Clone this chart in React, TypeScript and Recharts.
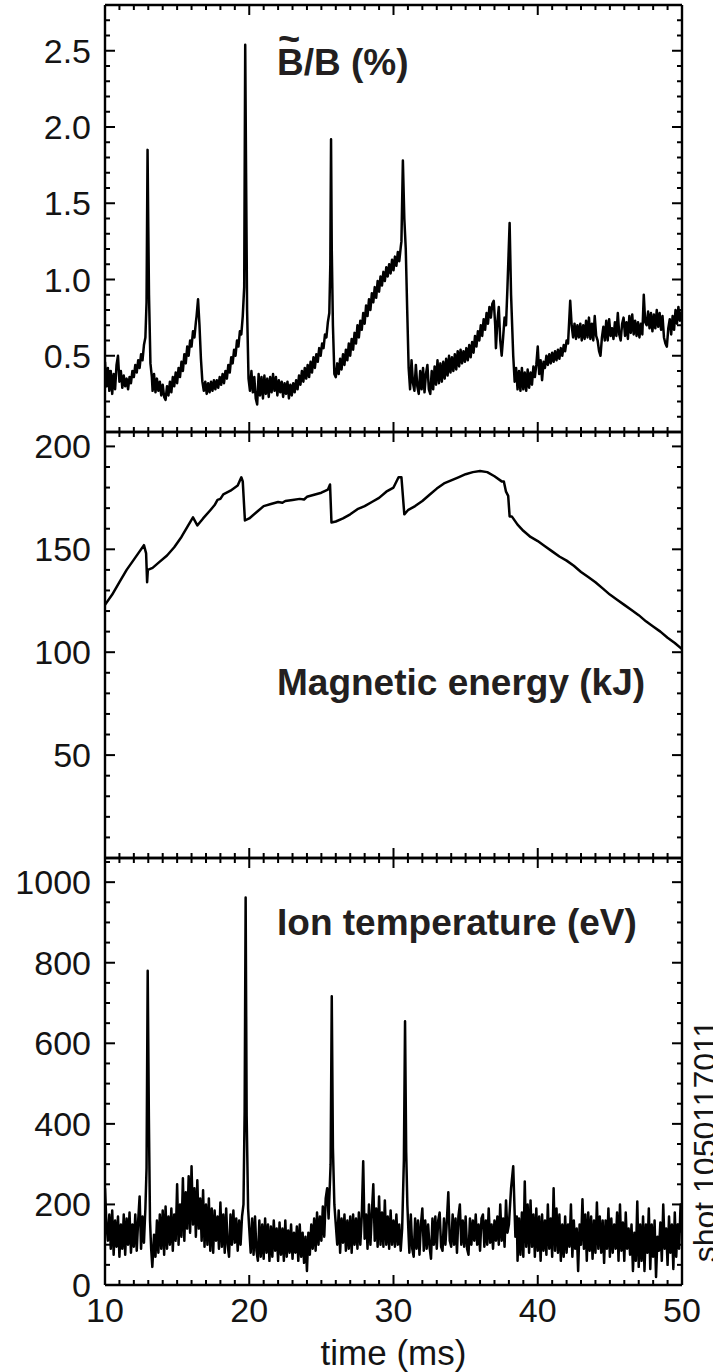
import { Customized, Line, LineChart, XAxis, YAxis } from "recharts"

const FONT = "'Liberation Sans', Arial, Helvetica, sans-serif"
const INK = "#141414"

// time axis shared by the three panels (ms)
const timeDomain: [number, number] = [10, 50]
const timeMajor = [10, 20, 30, 40, 50]

// B~/B (%)
const bDomain: [number, number] = [0, 2.8]
const bMajor = [0, 0.5, 1.0, 1.5, 2.0, 2.5]
const bLabels = [0.5, 1.0, 1.5, 2.0, 2.5]

// magnetic energy (kJ)
const wDomain: [number, number] = [0, 207]
const wMajor = [0, 50, 100, 150, 200]
const wLabels = [50, 100, 150, 200]

// ion temperature (eV)
const tiDomain: [number, number] = [0, 1060]
const tiMajor = [0, 200, 400, 600, 800, 1000]
const tiLabels = [0, 200, 400, 600, 800, 1000]

const bFluct: [number, number][] = [
  [10.0, 0.46], [10.1, 0.3], [10.2, 0.42], [10.3, 0.27], [10.4, 0.4], [10.5, 0.25], [10.6, 0.38], [10.7, 0.28],
  [10.8, 0.44], [10.9, 0.5], [11.0, 0.33], [11.1, 0.4], [11.2, 0.29], [11.3, 0.37], [11.4, 0.3], [11.5, 0.35],
  [11.6, 0.28], [11.7, 0.36], [11.8, 0.32], [11.9, 0.4], [12.0, 0.36], [12.1, 0.44], [12.2, 0.39], [12.3, 0.47],
  [12.4, 0.42], [12.5, 0.51], [12.6, 0.47], [12.7, 0.57], [12.8, 0.62], [12.88, 0.85], [12.95, 1.85], [13.0, 1.35],
  [13.05, 0.9], [13.15, 0.45], [13.25, 0.36], [13.3, 0.27], [13.4, 0.38], [13.5, 0.26], [13.6, 0.35], [13.7, 0.27],
  [13.8, 0.33], [13.9, 0.24], [14.0, 0.31], [14.1, 0.23], [14.2, 0.21], [14.3, 0.3], [14.4, 0.24], [14.5, 0.33],
  [14.6, 0.26], [14.7, 0.36], [14.8, 0.3], [14.9, 0.39], [15.0, 0.32], [15.1, 0.42], [15.2, 0.36], [15.3, 0.46],
  [15.4, 0.4], [15.5, 0.51], [15.6, 0.45], [15.7, 0.56], [15.8, 0.5], [15.9, 0.6], [16.0, 0.56], [16.1, 0.66],
  [16.2, 0.62], [16.3, 0.72], [16.35, 0.76], [16.45, 0.87], [16.55, 0.7], [16.65, 0.48], [16.75, 0.33], [16.85, 0.27],
  [16.95, 0.33], [17.05, 0.25], [17.15, 0.32], [17.25, 0.26], [17.35, 0.33], [17.45, 0.27], [17.55, 0.34], [17.65, 0.28],
  [17.75, 0.34], [17.85, 0.29], [17.95, 0.36], [18.05, 0.31], [18.15, 0.38], [18.25, 0.32], [18.35, 0.4], [18.45, 0.35],
  [18.55, 0.44], [18.65, 0.39], [18.75, 0.49], [18.85, 0.45], [18.95, 0.54], [19.05, 0.5], [19.15, 0.6], [19.25, 0.56],
  [19.35, 0.66], [19.45, 0.64], [19.55, 0.76], [19.65, 0.95], [19.72, 2.54], [19.78, 1.7], [19.85, 0.8], [19.95, 0.35],
  [20.05, 0.27], [20.15, 0.4], [20.25, 0.26], [20.35, 0.36], [20.45, 0.22], [20.55, 0.18], [20.65, 0.38], [20.75, 0.24],
  [20.85, 0.36], [20.95, 0.22], [21.05, 0.37], [21.15, 0.25], [21.25, 0.35], [21.35, 0.23], [21.45, 0.36], [21.55, 0.26],
  [21.65, 0.38], [21.75, 0.27], [21.85, 0.36], [21.95, 0.24], [22.05, 0.34], [22.15, 0.26], [22.25, 0.33], [22.35, 0.23],
  [22.45, 0.32], [22.55, 0.25], [22.65, 0.33], [22.75, 0.22], [22.85, 0.31], [22.95, 0.24], [23.05, 0.32], [23.15, 0.26],
  [23.25, 0.34], [23.35, 0.28], [23.45, 0.37], [23.55, 0.31], [23.65, 0.4], [23.75, 0.33], [23.85, 0.42], [23.95, 0.35],
  [24.05, 0.44], [24.15, 0.36], [24.25, 0.46], [24.35, 0.39], [24.45, 0.49], [24.55, 0.42], [24.65, 0.51], [24.75, 0.46],
  [24.85, 0.55], [24.95, 0.5], [25.05, 0.58], [25.15, 0.55], [25.25, 0.64], [25.35, 0.62], [25.45, 0.72], [25.55, 0.78],
  [25.62, 1.1], [25.67, 1.92], [25.72, 1.2], [25.8, 0.7], [25.9, 0.38], [26.0, 0.36], [26.1, 0.45], [26.2, 0.38],
  [26.3, 0.48], [26.4, 0.41], [26.5, 0.51], [26.6, 0.44], [26.7, 0.54], [26.8, 0.47], [26.9, 0.58], [27.0, 0.5],
  [27.1, 0.61], [27.2, 0.54], [27.3, 0.65], [27.4, 0.58], [27.5, 0.7], [27.6, 0.62], [27.7, 0.73], [27.8, 0.67],
  [27.9, 0.78], [28.0, 0.71], [28.1, 0.83], [28.2, 0.76], [28.3, 0.87], [28.4, 0.8], [28.5, 0.91], [28.6, 0.85],
  [28.7, 0.95], [28.8, 0.88], [28.9, 0.99], [29.0, 0.92], [29.1, 1.02], [29.2, 0.96], [29.3, 1.05], [29.4, 0.99],
  [29.5, 1.08], [29.6, 1.02], [29.7, 1.1], [29.8, 1.04], [29.9, 1.13], [30.0, 1.06], [30.1, 1.15], [30.2, 1.09],
  [30.3, 1.18], [30.4, 1.12], [30.5, 1.21], [30.55, 1.25], [30.65, 1.78], [30.75, 1.4], [30.85, 1.2], [30.95, 0.8],
  [31.05, 0.42], [31.15, 0.28], [31.25, 0.47], [31.35, 0.32], [31.45, 0.27], [31.55, 0.44], [31.65, 0.3], [31.75, 0.25],
  [31.85, 0.4], [31.95, 0.28], [32.05, 0.42], [32.15, 0.26], [32.25, 0.38], [32.35, 0.44], [32.45, 0.28], [32.55, 0.25],
  [32.65, 0.4], [32.75, 0.28], [32.85, 0.43], [32.95, 0.31], [33.05, 0.47], [33.15, 0.32], [33.25, 0.45], [33.35, 0.33],
  [33.45, 0.46], [33.55, 0.35], [33.65, 0.48], [33.75, 0.37], [33.85, 0.5], [33.95, 0.39], [34.05, 0.49], [34.15, 0.4],
  [34.25, 0.51], [34.35, 0.41], [34.45, 0.53], [34.55, 0.43], [34.65, 0.54], [34.75, 0.45], [34.85, 0.53], [34.95, 0.46],
  [35.05, 0.55], [35.15, 0.47], [35.25, 0.57], [35.35, 0.49], [35.45, 0.59], [35.55, 0.52], [35.65, 0.63], [35.75, 0.56],
  [35.85, 0.66], [35.95, 0.6], [36.05, 0.7], [36.15, 0.63], [36.25, 0.74], [36.35, 0.67], [36.45, 0.78], [36.55, 0.71],
  [36.65, 0.82], [36.75, 0.75], [36.85, 0.84], [36.95, 0.86], [37.05, 0.7], [37.1, 0.55], [37.2, 0.72], [37.3, 0.82],
  [37.4, 0.6], [37.5, 0.5], [37.6, 0.62], [37.7, 0.75], [37.8, 0.7], [37.9, 0.95], [38.05, 1.37], [38.15, 0.9],
  [38.3, 0.5], [38.4, 0.33], [38.5, 0.42], [38.6, 0.28], [38.7, 0.4], [38.8, 0.27], [38.9, 0.42], [39.0, 0.28],
  [39.1, 0.39], [39.2, 0.27], [39.3, 0.41], [39.4, 0.29], [39.5, 0.39], [39.6, 0.31], [39.7, 0.43], [39.8, 0.36],
  [39.9, 0.44], [40.0, 0.56], [40.1, 0.38], [40.2, 0.47], [40.3, 0.34], [40.4, 0.46], [40.5, 0.42], [40.6, 0.5],
  [40.7, 0.44], [40.8, 0.51], [40.9, 0.45], [41.0, 0.52], [41.1, 0.46], [41.2, 0.53], [41.3, 0.47], [41.4, 0.54],
  [41.5, 0.48], [41.6, 0.55], [41.7, 0.5], [41.8, 0.57], [41.9, 0.53], [42.0, 0.6], [42.1, 0.58], [42.25, 0.86],
  [42.35, 0.7], [42.45, 0.62], [42.55, 0.71], [42.65, 0.61], [42.75, 0.7], [42.85, 0.62], [42.95, 0.71], [43.05, 0.6],
  [43.15, 0.7], [43.25, 0.61], [43.35, 0.73], [43.45, 0.62], [43.55, 0.75], [43.65, 0.61], [43.75, 0.71], [43.85, 0.6],
  [43.95, 0.76], [44.05, 0.63], [44.15, 0.6], [44.25, 0.53], [44.35, 0.5], [44.45, 0.62], [44.55, 0.69], [44.65, 0.6],
  [44.75, 0.73], [44.85, 0.6], [44.95, 0.74], [45.05, 0.63], [45.15, 0.68], [45.25, 0.61], [45.35, 0.72], [45.45, 0.63],
  [45.55, 0.78], [45.65, 0.64], [45.75, 0.6], [45.85, 0.71], [45.95, 0.75], [46.05, 0.63], [46.15, 0.72], [46.25, 0.61],
  [46.35, 0.76], [46.45, 0.65], [46.55, 0.77], [46.65, 0.64], [46.75, 0.73], [46.85, 0.63], [46.95, 0.72], [47.05, 0.62],
  [47.15, 0.71], [47.25, 0.64], [47.35, 0.9], [47.45, 0.72], [47.55, 0.7], [47.65, 0.79], [47.75, 0.68], [47.85, 0.78],
  [47.95, 0.66], [48.05, 0.77], [48.15, 0.68], [48.25, 0.8], [48.35, 0.69], [48.45, 0.78], [48.55, 0.67], [48.65, 0.76],
  [48.75, 0.62], [48.85, 0.58], [48.95, 0.56], [49.05, 0.68], [49.15, 0.74], [49.25, 0.64], [49.35, 0.76], [49.45, 0.67],
  [49.55, 0.8], [49.65, 0.71], [49.75, 0.82], [49.85, 0.73], [50.0, 0.8],
]

const magEnergy: [number, number][] = [
  [10.0, 123], [10.5, 128], [11.0, 134], [11.5, 140], [12.0, 145], [12.4, 149], [12.7, 152], [12.85, 148],
  [12.92, 134], [12.97, 140], [13.3, 141], [13.8, 144], [14.3, 147], [14.8, 151], [15.3, 156], [15.8, 162],
  [16.1, 165.5], [16.4, 161.6], [16.8, 165], [17.3, 169], [17.6, 171.5], [17.8, 174], [18.0, 174.5], [18.2, 176.7],
  [18.7, 178.5], [19.2, 181], [19.45, 185], [19.55, 183], [19.7, 164], [20.0, 165], [20.5, 168], [21.0, 171],
  [21.5, 172], [22.0, 173], [22.3, 172.6], [22.5, 173.5], [23.0, 174], [23.5, 174.5], [23.8, 174.2], [24.0, 175.5],
  [24.5, 176.5], [25.0, 177.5], [25.45, 179], [25.6, 181.5], [25.7, 163], [26.0, 163.5], [26.5, 165], [27.0, 167],
  [27.5, 169.5], [28.0, 171], [28.5, 173], [29.0, 175], [29.5, 178], [30.0, 180], [30.35, 185], [30.55, 185],
  [30.75, 167], [31.0, 169], [31.5, 171], [32.0, 173.5], [32.5, 176.5], [33.0, 179.5], [33.5, 182], [34.0, 183.5],
  [34.5, 185], [35.0, 186.5], [35.5, 187.5], [36.0, 188], [36.5, 187.5], [37.0, 185.5], [37.5, 183], [37.65, 183],
  [37.8, 178], [37.95, 176], [38.05, 166], [38.2, 166], [38.6, 162], [39.0, 159], [39.5, 156], [40.0, 154],
  [40.5, 151.5], [41.0, 149], [41.5, 146.5], [42.0, 144.5], [42.5, 142], [43.0, 139], [43.5, 136.5], [44.0, 134],
  [44.5, 131], [45.0, 128], [45.5, 125.5], [46.0, 123], [46.5, 120.5], [47.0, 118], [47.5, 115], [48.0, 112.5],
  [48.5, 110], [49.0, 107], [49.5, 104.5], [50.0, 101.5],
]

const ionTemp: [number, number][] = [
  [10.0, 240], [10.1, 150], [10.2, 110], [10.3, 175], [10.4, 90], [10.5, 185], [10.6, 75], [10.7, 160],
  [10.8, 95], [10.9, 170], [11.0, 70], [11.1, 150], [11.2, 90], [11.3, 175], [11.4, 75], [11.5, 165],
  [11.6, 100], [11.7, 180], [11.8, 80], [11.9, 150], [12.0, 95], [12.1, 175], [12.2, 85], [12.3, 160],
  [12.4, 220], [12.5, 90], [12.6, 170], [12.7, 105], [12.8, 190], [12.88, 290], [12.96, 780], [13.04, 420],
  [13.12, 160], [13.2, 90], [13.28, 45], [13.4, 125], [13.5, 70], [13.6, 160], [13.7, 80], [13.8, 175],
  [13.9, 90], [14.0, 185], [14.1, 75], [14.2, 195], [14.3, 90], [14.4, 170], [14.5, 100], [14.6, 190],
  [14.7, 85], [14.8, 175], [14.9, 110], [15.0, 250], [15.1, 100], [15.2, 200], [15.3, 120], [15.4, 265],
  [15.5, 110], [15.6, 230], [15.7, 140], [15.8, 270], [15.9, 130], [16.0, 295], [16.1, 150], [16.2, 240],
  [16.3, 120], [16.4, 260], [16.5, 140], [16.6, 215], [16.7, 110], [16.8, 235], [16.9, 95], [17.0, 200],
  [17.1, 100], [17.2, 215], [17.3, 85], [17.4, 190], [17.5, 80], [17.6, 185], [17.7, 110], [17.8, 170],
  [17.9, 90], [18.0, 205], [18.1, 95], [18.2, 175], [18.3, 80], [18.4, 190], [18.5, 100], [18.6, 70],
  [18.7, 175], [18.8, 100], [18.9, 185], [19.0, 105], [19.1, 165], [19.2, 85], [19.3, 160], [19.4, 100],
  [19.5, 170], [19.6, 200], [19.68, 430], [19.75, 962], [19.82, 420], [19.92, 190], [20.0, 140], [20.1, 80],
  [20.2, 165], [20.3, 75], [20.4, 170], [20.5, 85], [20.6, 60], [20.7, 160], [20.8, 70], [20.9, 150],
  [21.0, 65], [21.1, 165], [21.2, 80], [21.3, 150], [21.4, 60], [21.5, 145], [21.6, 70], [21.7, 160],
  [21.8, 85], [21.9, 140], [22.0, 60], [22.1, 155], [22.2, 75], [22.3, 140], [22.4, 60], [22.5, 160],
  [22.6, 70], [22.7, 135], [22.8, 80], [22.9, 150], [23.0, 65], [23.1, 130], [23.2, 80], [23.3, 145],
  [23.4, 60], [23.5, 150], [23.6, 70], [23.7, 130], [23.8, 55], [23.9, 120], [24.0, 35], [24.1, 130],
  [24.2, 75], [24.3, 150], [24.4, 90], [24.5, 165], [24.6, 85], [24.7, 180], [24.8, 100], [24.9, 170],
  [25.0, 110], [25.1, 195], [25.2, 120], [25.3, 215], [25.4, 240], [25.5, 165], [25.64, 300], [25.72, 717],
  [25.8, 340], [25.9, 200], [26.0, 150], [26.1, 100], [26.2, 185], [26.3, 80], [26.4, 165], [26.5, 105],
  [26.6, 175], [26.7, 85], [26.8, 160], [26.9, 90], [27.0, 170], [27.1, 80], [27.2, 175], [27.3, 100],
  [27.4, 165], [27.5, 90], [27.6, 180], [27.7, 100], [27.8, 170], [27.9, 307], [28.0, 115], [28.1, 175],
  [28.2, 90], [28.3, 200], [28.4, 100], [28.5, 180], [28.6, 250], [28.7, 110], [28.8, 190], [28.9, 95],
  [29.0, 220], [29.1, 100], [29.2, 180], [29.3, 95], [29.4, 210], [29.5, 100], [29.6, 170], [29.7, 90],
  [29.8, 185], [29.9, 100], [30.0, 160], [30.1, 95], [30.2, 175], [30.3, 100], [30.4, 150], [30.5, 85],
  [30.6, 140], [30.72, 310], [30.8, 655], [30.88, 330], [30.96, 200], [31.05, 120], [31.1, 80], [31.2, 175],
  [31.3, 90], [31.4, 70], [31.5, 165], [31.6, 90], [31.7, 160], [31.8, 75], [31.9, 150], [32.0, 190],
  [32.1, 85], [32.2, 160], [32.3, 90], [32.4, 150], [32.5, 95], [32.6, 65], [32.7, 165], [32.8, 100],
  [32.9, 170], [33.0, 90], [33.1, 160], [33.2, 180], [33.3, 95], [33.4, 85], [33.5, 165], [33.6, 100],
  [33.7, 160], [33.8, 230], [33.9, 110], [34.0, 95], [34.1, 175], [34.2, 100], [34.3, 165], [34.4, 80],
  [34.5, 170], [34.6, 200], [34.7, 100], [34.8, 160], [34.9, 95], [35.0, 170], [35.1, 90], [35.2, 75],
  [35.3, 165], [35.4, 100], [35.5, 160], [35.6, 110], [35.7, 175], [35.8, 100], [35.9, 150], [36.0, 85],
  [36.1, 165], [36.2, 175], [36.3, 95], [36.4, 160], [36.5, 100], [36.6, 190], [36.7, 105], [36.8, 150],
  [36.9, 90], [37.0, 160], [37.1, 110], [37.2, 170], [37.3, 100], [37.4, 200], [37.5, 110], [37.6, 165],
  [37.7, 95], [37.8, 210], [37.9, 130], [38.0, 150], [38.15, 240], [38.3, 295], [38.45, 120], [38.55, 170],
  [38.6, 60], [38.7, 165], [38.8, 75], [38.9, 180], [39.0, 70], [39.1, 257], [39.2, 95], [39.3, 200],
  [39.4, 80], [39.5, 210], [39.6, 95], [39.7, 175], [39.8, 70], [39.9, 190], [40.0, 85], [40.1, 170],
  [40.2, 60], [40.3, 175], [40.4, 85], [40.5, 160], [40.6, 75], [40.7, 200], [40.8, 90], [40.9, 165],
  [41.0, 70], [41.1, 240], [41.2, 85], [41.3, 190], [41.4, 80], [41.5, 175], [41.6, 60], [41.7, 150],
  [41.8, 70], [41.9, 170], [42.0, 80], [42.1, 150], [42.2, 95], [42.3, 200], [42.4, 70], [42.5, 160],
  [42.6, 90], [42.7, 140], [42.8, 35], [42.9, 150], [43.0, 100], [43.1, 213], [43.2, 90], [43.3, 175],
  [43.4, 60], [43.5, 180], [43.6, 85], [43.7, 170], [43.8, 65], [43.9, 160], [44.0, 80], [44.1, 205],
  [44.2, 90], [44.3, 170], [44.4, 80], [44.5, 160], [44.6, 55], [44.7, 160], [44.8, 90], [44.9, 190],
  [45.0, 70], [45.1, 165], [45.2, 80], [45.3, 150], [45.4, 90], [45.5, 180], [45.6, 60], [45.7, 200],
  [45.8, 85], [45.9, 155], [46.0, 60], [46.1, 180], [46.2, 90], [46.3, 140], [46.4, 75], [46.5, 150],
  [46.6, 35], [46.7, 130], [46.8, 60], [46.9, 207], [47.0, 45], [47.1, 150], [47.2, 60], [47.3, 170],
  [47.4, 35], [47.5, 150], [47.6, 80], [47.7, 190], [47.8, 40], [47.9, 150], [48.0, 70], [48.1, 160],
  [48.2, 20], [48.3, 120], [48.4, 85], [48.5, 155], [48.6, 60], [48.7, 200], [48.8, 90], [48.9, 140],
  [49.0, 50], [49.1, 170], [49.2, 80], [49.3, 150], [49.4, 40], [49.5, 180], [49.6, 70], [49.7, 150],
  [49.8, 90], [49.9, 200], [50.0, 130],
]

const toRows = (pts: [number, number][]) => pts.map(([t, v]) => ({ t, v }))

// evenly spaced tick positions, majors and minors together
function ladder(lo: number, hi: number, step: number) {
  const out: number[] = []
  for (let i = 0; lo + i * step <= hi + 1e-9; i++) out.push(Math.round((lo + i * step) * 1000) / 1000)
  return out
}

const timeTicks = ladder(10, 50, 1)

type Side = "top" | "bottom" | "left" | "right"

// inward tick marks on the frame, labels outside
function frameTick(side: Side, majors: number[], labels: number[], fmt: (v: number) => string) {
  return (p: any) => {
    const v = p.payload.value as number
    const near = (list: number[]) => list.some((m) => Math.abs(m - v) < 1e-6)
    const len = near(majors) ? 10 : 5
    const { x, y } = p
    const seg = { x1: x, y1: y, x2: x, y2: y }
    if (side === "bottom") seg.y2 = y - len
    if (side === "top") seg.y2 = y + len
    if (side === "left") seg.x2 = x + len
    if (side === "right") seg.x2 = x - len
    const showLabel = near(labels)
    return (
      <g>
        <line {...seg} stroke="#000" strokeWidth={2} />
        {showLabel && side === "bottom" && (
          <text x={x} y={y + 37} textAnchor="middle" fontFamily={FONT} fontSize={34} fill={INK}>
            {fmt(v)}
          </text>
        )}
        {showLabel && side === "left" && (
          <text x={x - 14} y={y + 12} textAnchor="end" fontFamily={FONT} fontSize={34} fill={INK}>
            {fmt(v)}
          </text>
        )}
      </g>
    )
  }
}

const frameLine = { stroke: "#000", strokeWidth: 2.4 }
const noLabels: number[] = []

interface PanelProps {
  top: number
  height: number
  margin: { top: number; right: number; bottom: number; left: number }
  data: { t: number; v: number }[]
  domain: [number, number]
  yTicks: number[]
  yMajor: number[]
  yLabels: number[]
  yFmt: (v: number) => string
  timeLabels: number[]
  children?: React.ReactNode
}

// one stacked panel; axes are 1px thick so the margins alone place the frame
function Panel(props: PanelProps) {
  const { top, height, margin, data, domain, yTicks, yMajor, yLabels, yFmt, timeLabels } = props
  return (
    <div style={{ position: "absolute", left: 0, top }}>
      <LineChart width={713} height={height} data={data} margin={margin}>
        <XAxis
          xAxisId="b"
          dataKey="t"
          type="number"
          domain={timeDomain}
          allowDataOverflow
          ticks={timeTicks}
          interval={0}
          height={1}
          tickSize={0}
          tickMargin={0}
          tickLine={false}
          axisLine={frameLine}
          tick={frameTick("bottom", timeMajor, timeLabels, (v) => String(v))}
        />
        <XAxis
          xAxisId="t"
          orientation="top"
          dataKey="t"
          type="number"
          domain={timeDomain}
          allowDataOverflow
          ticks={timeTicks}
          interval={0}
          height={1}
          tickSize={0}
          tickMargin={0}
          tickLine={false}
          axisLine={frameLine}
          tick={frameTick("top", timeMajor, noLabels, String)}
        />
        <YAxis
          yAxisId="l"
          type="number"
          domain={domain}
          allowDataOverflow
          ticks={yTicks}
          interval={0}
          width={1}
          tickSize={0}
          tickMargin={0}
          tickLine={false}
          axisLine={frameLine}
          tick={frameTick("left", yMajor, yLabels, yFmt)}
        />
        <YAxis
          yAxisId="r"
          orientation="right"
          type="number"
          domain={domain}
          allowDataOverflow
          ticks={yTicks}
          interval={0}
          width={1}
          tickSize={0}
          tickMargin={0}
          tickLine={false}
          axisLine={frameLine}
          tick={frameTick("right", yMajor, noLabels, String)}
        />
        <Line
          xAxisId="b"
          yAxisId="l"
          type="linear"
          dataKey="v"
          stroke="#000"
          strokeWidth={2.5}
          strokeLinejoin="round"
          dot={false}
          activeDot={false}
          isAnimationActive={false}
        />
        {props.children}
      </LineChart>
    </div>
  )
}

const titleStyle = { fontFamily: FONT, fontSize: 37, fontWeight: 700, fill: "#231f20" }

export default function App() {
  return (
    <div style={{ position: "absolute", left: 0, top: 0, width: 713, height: 1372, background: "#fff" }}>
      <Panel
        top={0}
        height={445}
        margin={{ top: 4, right: 30, bottom: 12, left: 104 }}
        data={toRows(bFluct)}
        domain={bDomain}
        yTicks={ladder(0, 2.8, 0.1)}
        yMajor={bMajor}
        yLabels={bLabels}
        yFmt={(v) => v.toFixed(1)}
        timeLabels={noLabels}
      >
        <Customized
          component={() => (
            <text {...titleStyle}>
              <tspan x={278} y={52} fontSize={38}>
                ~
              </tspan>
              <tspan x={277} y={75}>
                B/B (%)
              </tspan>
            </text>
          )}
        />
      </Panel>
      <Panel
        top={420}
        height={450}
        margin={{ top: 11, right: 30, bottom: 11, left: 104 }}
        data={toRows(magEnergy)}
        domain={wDomain}
        yTicks={ladder(0, 200, 10)}
        yMajor={wMajor}
        yLabels={wLabels}
        yFmt={String}
        timeLabels={noLabels}
      >
        <Customized
          component={() => (
            <text x={277} y={275} {...titleStyle}>
              Magnetic energy (kJ)
            </text>
          )}
        />
      </Panel>
      <Panel
        top={840}
        height={532}
        margin={{ top: 17, right: 30, bottom: 86, left: 104 }}
        data={toRows(ionTemp)}
        domain={tiDomain}
        yTicks={ladder(0, 1050, 50)}
        yMajor={tiMajor}
        yLabels={tiLabels}
        yFmt={String}
        timeLabels={timeMajor}
      >
        <Customized
          component={() => (
            <g>
              <text x={277} y={95} {...titleStyle}>
                Ion temperature (eV)
              </text>
              <text x={393.5} y={525} textAnchor="middle" fontFamily={FONT} fontSize={35} fill={INK}>
                time (ms)
              </text>
              <text
                x={716}
                y={301}
                transform="rotate(-90 716 301)"
                textAnchor="middle"
                fontFamily={FONT}
                fontSize={32}
                fill={INK}
              >
                shot 1050117011
              </text>
            </g>
          )}
        />
      </Panel>
    </div>
  )
}
